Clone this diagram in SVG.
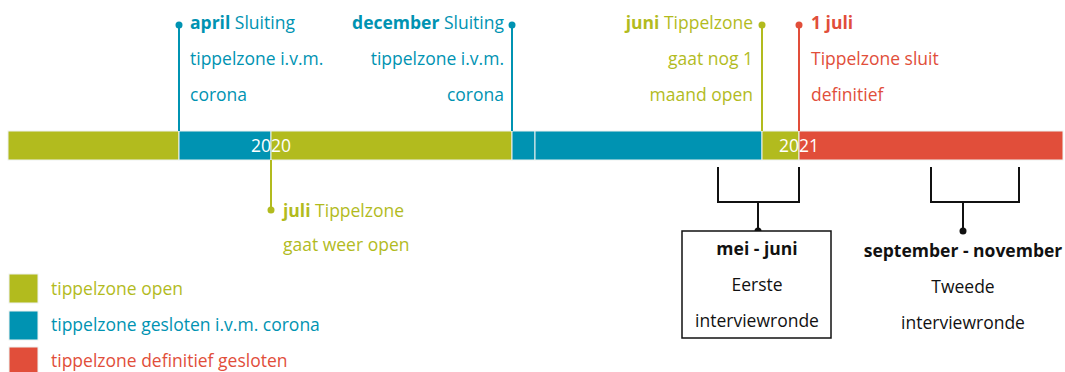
<svg xmlns="http://www.w3.org/2000/svg" width="1065" height="372" viewBox="0 0 1065 372">
<style>
text{font-family:"Open Sans",Lato,"Liberation Sans",sans-serif;font-size:17.5px}
.b{font-weight:bold}
.g{fill:#b2bb1e}.bl{fill:#0093b2}.r{fill:#e14e3a}.k{fill:#111}.w{fill:#fff}
.seg{stroke:#eef2f0;stroke-width:1}
.lg{stroke:#b2bb1e;stroke-width:2;fill:none}
.lb{stroke:#0093b2;stroke-width:2;fill:none}
.lr{stroke:#e14e3a;stroke-width:2;fill:none}
.lk{stroke:#111;stroke-width:2;fill:none}
.m{text-anchor:middle}.e{text-anchor:end}
</style>
<g id="bar">
<rect class="seg g" x="8" y="131" width="171" height="29"/>
<rect class="seg bl" x="179" y="131" width="92" height="29"/>
<rect class="seg g" x="271" y="131" width="241" height="29"/>
<rect class="seg bl" x="512" y="131" width="23" height="29"/>
<rect class="seg bl" x="535" y="131" width="227" height="29"/>
<rect class="seg g" x="762" y="131" width="37" height="29"/>
<rect class="seg r" x="799" y="131" width="264" height="29"/>
<text class="w m" x="271" y="152">2020</text>
<text class="w m" x="799" y="152">2021</text>
</g>
<g id="connectors">
<line class="lb" x1="179" y1="25" x2="179" y2="131"/>
<line class="lb" x1="512" y1="25" x2="512" y2="131"/>
<line class="lg" x1="762" y1="25" x2="762" y2="131"/>
<line class="lr" x1="799" y1="25" x2="799" y2="131"/>
<line class="lg" x1="271" y1="160" x2="271" y2="210"/>
<circle class="bl" cx="179" cy="25" r="3.5"/>
<circle class="bl" cx="512" cy="25" r="3.5"/>
<circle class="g" cx="762" cy="25" r="3.5"/>
<circle class="r" cx="799" cy="25" r="3.5"/>
<circle class="g" cx="271" cy="210" r="3.5"/>
<path class="lk" d="M718 167V202H799V167M758 202V231"/>
<path class="lk" d="M931 167V202H1019V167M963 202V231"/>
<circle class="k" cx="758" cy="231" r="3.5"/>
<circle class="k" cx="963" cy="231" r="3.5"/>
</g>
<g id="april">
<text class="bl" x="190" y="29"><tspan class="b">april</tspan> Sluiting</text>
<text class="bl" x="190" y="65">tippelzone i.v.m.</text>
<text class="bl" x="190" y="101">corona</text>
</g>
<g id="december">
<text class="bl e" x="504" y="29"><tspan class="b">december</tspan> Sluiting</text>
<text class="bl e" x="504" y="65">tippelzone i.v.m.</text>
<text class="bl e" x="504" y="101">corona</text>
</g>
<g id="juni">
<text class="g e" x="753" y="29"><tspan class="b">juni</tspan> Tippelzone</text>
<text class="g e" x="753" y="65">gaat nog 1</text>
<text class="g e" x="753" y="101">maand open</text>
</g>
<g id="juli1">
<text class="r b" x="811" y="29">1 juli</text>
<text class="r" x="811" y="65">Tippelzone sluit</text>
<text class="r" x="811" y="101">definitief</text>
</g>
<g id="juli">
<text class="g" x="283" y="217"><tspan class="b">juli</tspan> Tippelzone</text>
<text class="g" x="283" y="251">gaat weer open</text>
</g>
<g id="ronde1">
<rect x="682" y="231" width="149" height="107" fill="#fff" stroke="#111" stroke-width="1.5"/>
<text class="k m b" x="757" y="255">mei - juni</text>
<text class="k m" x="757" y="291">Eerste</text>
<text class="k m" x="757" y="327">interviewronde</text>
</g>
<g id="ronde2">
<text class="k m b" x="963" y="257">september - november</text>
<text class="k m" x="963" y="293">Tweede</text>
<text class="k m" x="963" y="329">interviewronde</text>
</g>
<g id="legend">
<rect class="seg g" x="9" y="274" width="29" height="29"/>
<rect class="seg bl" x="9" y="311" width="29" height="29"/>
<rect class="seg r" x="9" y="347" width="29" height="29"/>
<text class="g" x="51" y="295">tippelzone open</text>
<text class="bl" x="51" y="331">tippelzone gesloten i.v.m. corona</text>
<text class="r" x="51" y="367">tippelzone definitief gesloten</text>
</g>
</svg>
